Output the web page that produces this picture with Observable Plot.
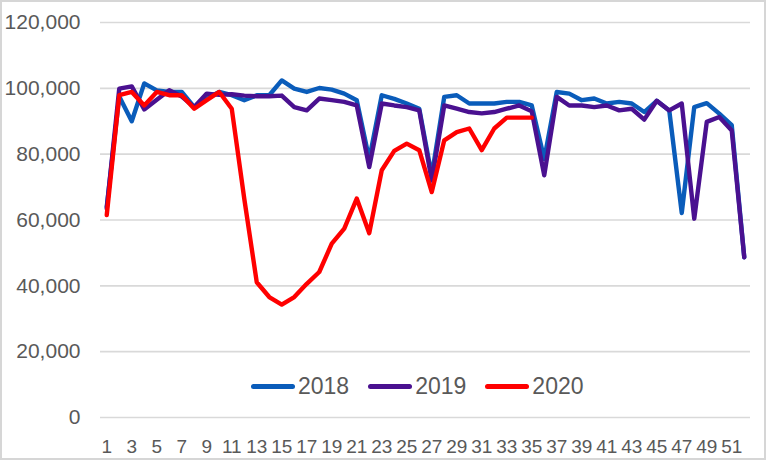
<!DOCTYPE html>
<html>
<head>
<meta charset="utf-8">
<script src="https://cdn.jsdelivr.net/npm/d3@7"></script>
<script src="https://cdn.jsdelivr.net/npm/@observablehq/plot@0.6"></script>
<style>
  html, body { margin: 0; padding: 0; background: #fff; }
  #wrap { position: relative; width: 766px; height: 460px; overflow: hidden; }
  #border { position: absolute; left: 0; top: 0; width: 766px; height: 460px; box-sizing: border-box; border: 2px solid #d6d6d6; pointer-events: none; }
  #legend { position: absolute; left: 251px; top: 373px; display: flex; align-items: center; font-family: "Liberation Sans", Arial, sans-serif; font-size: 23px; color: #595959; }
  .item { display: flex; align-items: center; margin-right: 19px; }
  .sw { width: 44px; height: 5px; border-radius: 3px; margin-right: 3px; }
</style>
</head>
<body>
<div id="wrap">
  <div id="chart"></div>
  <div id="legend"></div>
  <div id="border"></div>
</div>
<script>
const weeks = d3.range(1, 53);
const xTicks = d3.range(1, 52, 2);
const yTicks = [0, 20000, 40000, 60000, 80000, 100000, 120000];
const seriesNames = ["2018", "2019", "2020"];
const seriesColors = ["#0a5cba", "#4a1190", "#ff0000"];

const v2018 = [64000, 97500, 90000, 101500, 99400, 98900, 98900, 94300, 96900, 98900,
  97900, 96400, 97900, 97900, 102400, 99900, 98900, 100100, 99600, 98400,
  96400, 78500, 97900, 96800, 95400, 93800, 73500, 97400, 97900, 95400,
  95400, 95400, 95900, 95900, 94800, 78500, 98900, 98400, 96400, 96900,
  95400, 95900, 95400, 92800, 96200, 93300, 62100, 94300, 95500, 92300,
  88800, 48700];
const v2019 = [63500, 99900, 100600, 93600, 96500, 99400, 97500, 94300, 98400, 98000,
  98200, 97800, 97600, 97600, 97800, 94300, 93300, 96900, 96400, 95900,
  94800, 76100, 95400, 94800, 94300, 93300, 72000, 94800, 93800, 92800,
  92400, 92800, 93800, 94800, 93000, 73600, 97400, 94800, 94800, 94300,
  94800, 93300, 93800, 90500, 96200, 93300, 95400, 60400, 89800, 91300,
  87200, 48700];
const v2020 = [61500, 97900, 98900, 94800, 98900, 97900, 97900, 93800, 96400, 98900,
  93800, 66500, 41100, 36600, 34300, 36600, 40600, 44200, 52800, 57400,
  66500, 56000, 75100, 81000, 83200, 81200, 68500, 84200, 86700, 87800,
  81200, 87800, 91100, 91100, 91100];

const allValues = [v2018, v2019, v2020];
const rows = [];
allValues.forEach((vals, i) => {
  vals.forEach((v, j) => rows.push({ week: weeks[j], value: v, series: seriesNames[i] }));
});

const chart = Plot.plot({
  width: 766,
  height: 460,
  marginLeft: 100,
  marginRight: 16,
  marginTop: 22,
  marginBottom: 43,
  style: { fontFamily: "'Liberation Sans', Arial, sans-serif", color: "#595959", background: "#fff" },
  x: { type: "linear", domain: [0.5, 52.5] },
  y: { domain: [0, 120000] },
  color: { domain: seriesNames, range: seriesColors },
  marks: [
    Plot.gridY(yTicks, { stroke: "#d9d9d9", strokeOpacity: 1, strokeWidth: 1.6 }),
    Plot.axisY(yTicks, { tickFormat: d3.format(","), tickSize: 0, tickPadding: 20, fontSize: 21, label: null }),
    Plot.axisX(xTicks, { tickFormat: d => String(d), tickSize: 0, tickPadding: 22, fontSize: 19, label: null }),
    ...seriesNames.map(s => Plot.line(rows.filter(r => r.series === s), {
      x: "week", y: "value", stroke: "series", strokeWidth: 4.4, strokeLinejoin: "round", strokeLinecap: "round"
    }))
  ]
});
document.getElementById("chart").appendChild(chart);

const legend = document.getElementById("legend");
seriesNames.forEach((s, i) => {
  const it = document.createElement("div");
  it.className = "item";
  const sw = document.createElement("div");
  sw.className = "sw";
  sw.style.background = seriesColors[i];
  const tx = document.createElement("span");
  tx.textContent = s;
  it.appendChild(sw);
  it.appendChild(tx);
  legend.appendChild(it);
});
</script>
</body>
</html>
